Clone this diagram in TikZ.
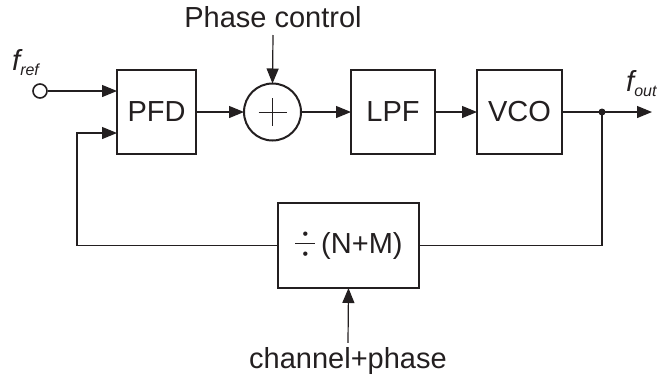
\documentclass[tikz,border=0pt]{standalone}
\usepackage{fontspec}
\setmainfont{Liberation Sans}
\usepackage{tikz}
\usetikzlibrary{arrows.meta, positioning, calc}
\definecolor{ink}{RGB}{35,31,32}

% small italic subscript and a tall division sign
\newcommand{\subsc}[1]{\raisebox{-5bp}{\fontsize{16bp}{16bp}\selectfont #1}}
\newcommand{\divsym}{%
  \makebox[22bp]{\hss
    \rlap{\rule[9.4bp]{20bp}{1.2bp}}%
    \rlap{\makebox[20bp]{\raisebox{14.4bp}{\fontsize{16bp}{16bp}\selectfont •}}}%
    \makebox[20bp]{\raisebox{-5.6bp}{\fontsize{16bp}{16bp}\selectfont •}}%
  \hss}}

\begin{document}
\begin{tikzpicture}[
  x=1bp, y=-1bp,
  every node/.style={font=\fontsize{29bp}{34bp}\selectfont, text=ink, align=center},
  block/.style   ={rectangle, draw=ink, line width=2.5bp, outer sep=0pt,
                   minimum height=84bp, minimum width=84bp},
  summer/.style  ={circle, draw=ink, line width=2bp, outer sep=0pt,
                   minimum size=57bp, inner sep=0pt},
  port/.style    ={circle, draw=ink, line width=1.6bp, fill=white,
                   minimum size=14bp, inner sep=0pt},
  lbl/.style     ={inner sep=0pt},
  wire/.style    ={draw=ink, line width=1.2bp},
  arr/.style     ={wire, -{Triangle[length=15bp, width=12bp]}},
]
\useasboundingbox (0,0) rectangle (658,378);

% Forward path
\node[block, minimum width=79bp] (pfd) at (156.5,112) {PFD};
\node[summer, right=48bp of pfd]  (sum) {};
\node[block, right=50bp of sum]   (lpf) {LPF};
\node[block, right=42bp of lpf, minimum width=85bp] (vco) {VCO};

% Divider in the loop
\node[block, minimum width=141bp, minimum height=85bp] (div) at (348.5,245.5)
  {\divsym\,(N+M)};

% Plus sign in the summer
\draw[ink, line width=1bp] ($(sum.center)+(-14,0)$) -- ($(sum.center)+(14,0)$);
\draw[ink, line width=1bp] ($(sum.center)+(0,-14)$) -- ($(sum.center)+(0,14)$);

% Input / output
\node[port] (fref) at (40,91) {};
\node[lbl, anchor=base west] (freflbl) at (12,70) {\itshape f\subsc{ref}};
\coordinate (tap)  at (602,112);
\coordinate (fout) at (652,112);
\node[lbl, anchor=base west] (foutlbl) at (626,91) {\itshape f\subsc{out}};

% Control inputs
\node[lbl, anchor=base] (phase) at (273,27) {Phase control};
\node[lbl, anchor=base] (chan)  at (348,368) {channel+phase};

% Wires - forward
\draw[arr] (fref) -- (fref -| pfd.west);
\draw[arr] (pfd) -- (sum);
\draw[arr] (sum) -- (lpf);
\draw[arr] (lpf) -- (vco);
\draw[wire] (vco.east) -- (tap);
\draw[arr] (tap) -- (fout);
\fill[ink] (tap) circle (3.5bp);

% Control arrows
\draw[arr] ($(phase.base)+(0,8)$) -- (sum.north);
\draw[arr] ($(chan.north)+(0,-4)$) -- (div.south);

% Feedback loop
\coordinate (fbcorner) at (77,133);
\draw[wire] (tap) |- (div.east);
\draw[arr] (div.west) -| (fbcorner) -- (fbcorner -| pfd.west);

\end{tikzpicture}
\end{document}
